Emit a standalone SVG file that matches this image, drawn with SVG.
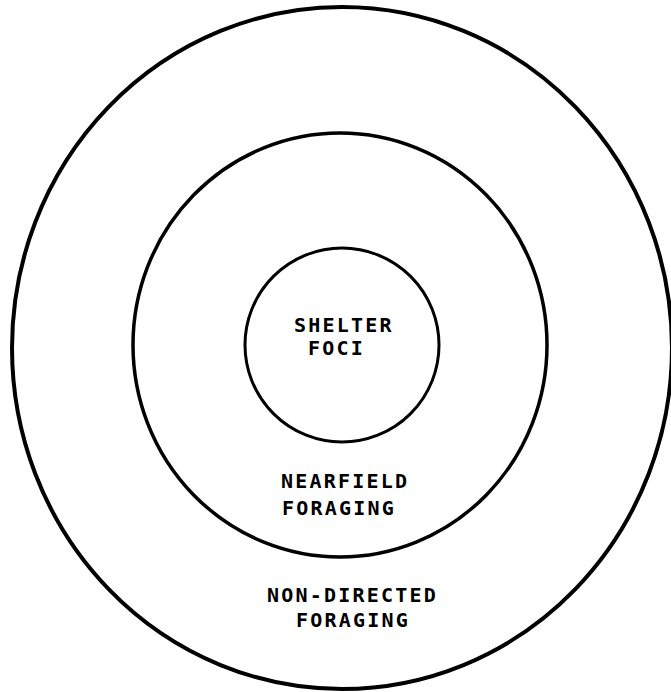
<svg xmlns="http://www.w3.org/2000/svg" width="671" height="692" viewBox="0 0 671 692">
<style>
.ring{fill:none;stroke:#000}
.lbl{font-family:"DejaVu Sans Mono","Liberation Mono",monospace;font-size:20px;font-weight:bold;letter-spacing:2.2px;fill:#000}
</style>
<rect width="671" height="692" fill="#fff"/>
<g id="non-directed">
<ellipse class="ring" cx="342" cy="348" rx="330" ry="341" stroke-width="4"/>
<text class="lbl" x="267" y="602">NON-DIRECTED</text>
<text class="lbl" x="296" y="627">FORAGING</text>
</g>
<g id="nearfield">
<ellipse class="ring" cx="340" cy="345" rx="207" ry="212" stroke-width="3.5"/>
<text class="lbl" x="281" y="488">NEARFIELD</text>
<text class="lbl" x="282" y="515">FORAGING</text>
</g>
<g id="shelter">
<ellipse class="ring" cx="342" cy="345" rx="97" ry="97" stroke-width="3"/>
<text class="lbl" x="294" y="332">SHELTER</text>
<text class="lbl" x="308" y="355">FOCI</text>
</g>
<g id="connectors"/>
</svg>
